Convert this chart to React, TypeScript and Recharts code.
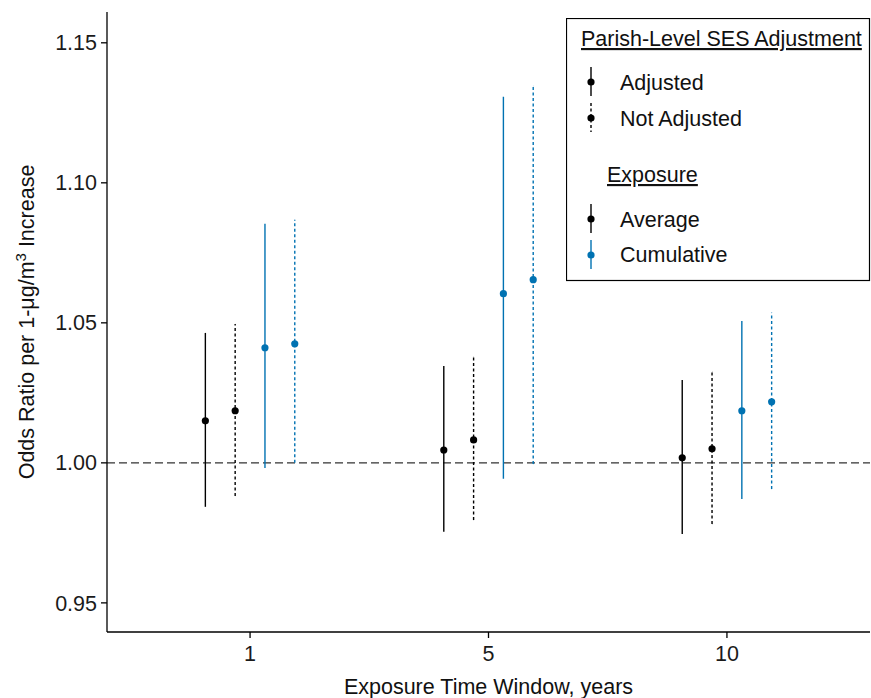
import React from 'react';
import { ComposedChart, Scatter, ErrorBar, XAxis, YAxis, ReferenceLine, Legend } from 'recharts';

const FONT = '"Liberation Sans", Arial, Helvetica, sans-serif';
const FS = 21.5;
const BLACK = '#000000';
const BLUE = '#0072B2';

// exposure windows (years) on the x axis
const windows = ['1', '5', '10'];
// dodge offsets for the 4 estimates inside each window
const dodge = [-0.1875, -0.0625, 0.0625, 0.1875];
const yTicks = [0.95, 1.0, 1.05, 1.1, 1.15];

// average exposure, adjusted for parish-level SES
const avgAdjOR = [1.015, 1.0046, 1.0018];
const avgAdjLow = [0.9843, 0.9754, 0.9746];
const avgAdjHigh = [1.0464, 1.0346, 1.0296];

// average exposure, not adjusted
const avgNotOR = [1.0186, 1.0082, 1.005];
const avgNotLow = [0.9882, 0.9796, 0.9782];
const avgNotHigh = [1.0496, 1.0379, 1.0325];

// cumulative exposure, adjusted
const cumAdjOR = [1.0411, 1.0604, 1.0186];
const cumAdjLow = [0.9982, 0.9943, 0.9871];
const cumAdjHigh = [1.0854, 1.1307, 1.0507];

// cumulative exposure, not adjusted
const cumNotOR = [1.0425, 1.0654, 1.0218];
const cumNotLow = [1.0, 0.9996, 0.9907];
const cumNotHigh = [1.0868, 1.1346, 1.0536];

const sesLabels = ['Adjusted', 'Not Adjusted'];
const exposureLabels = ['Average', 'Cumulative'];

const makeSeries = (or: number[], lo: number[], hi: number[], slot: number) =>
  windows.map((w, i) => ({
    x: i + 1 + dodge[slot],
    or: or[i],
    err: [or[i] - lo[i], hi[i] - or[i]],
  }));

const series = [
  { name: 'Average, Adjusted', data: makeSeries(avgAdjOR, avgAdjLow, avgAdjHigh, 0), color: BLACK, dash: undefined },
  { name: 'Average, Not Adjusted', data: makeSeries(avgNotOR, avgNotLow, avgNotHigh, 1), color: BLACK, dash: '3 2.5' },
  { name: 'Cumulative, Adjusted', data: makeSeries(cumAdjOR, cumAdjLow, cumAdjHigh, 2), color: BLUE, dash: undefined },
  { name: 'Cumulative, Not Adjusted', data: makeSeries(cumNotOR, cumNotLow, cumNotHigh, 3), color: BLUE, dash: '3 2.5' },
];

const Dot = (props: any) => <circle cx={props.cx} cy={props.cy} r={3.6} fill={props.fill} />;

const KeyGlyph = ({ y, color, dash }: { y: number; color: string; dash?: string }) => (
  <g>
    <line x1={25} x2={25} y1={y - 15} y2={y + 14} stroke={color} strokeWidth={1.4} strokeDasharray={dash} />
    <circle cx={25} cy={y} r={3.6} fill={color} />
  </g>
);

const LegendBox = () => {
  const textProps = { fontFamily: FONT, fontSize: FS, fill: '#111' };
  return (
    <svg width={305} height={264} style={{ display: 'block' }}>
      <rect x={0.5} y={0.5} width={303} height={262} fill="#fff" stroke="#000" strokeWidth={1.2} />
      <text x={15} y={28} {...textProps} style={{ textDecoration: 'underline' }}>Parish-Level SES Adjustment</text>
      <KeyGlyph y={64} color={BLACK} />
      <text x={54} y={72} {...textProps}>{sesLabels[0]}</text>
      <KeyGlyph y={100} color={BLACK} dash="3 2.5" />
      <text x={54} y={108} {...textProps}>{sesLabels[1]}</text>
      <text x={41} y={164} {...textProps} style={{ textDecoration: 'underline' }}>Exposure</text>
      <KeyGlyph y={201} color={BLACK} />
      <text x={54} y={209} {...textProps}>{exposureLabels[0]}</text>
      <KeyGlyph y={237} color={BLUE} />
      <text x={54} y={244} {...textProps}>{exposureLabels[1]}</text>
    </svg>
  );
};

const YTitle = (props: any) => {
  const vb = props.viewBox;
  const cx = vb.x + 34;
  const cy = vb.y + vb.height / 2;
  return (
    <text transform={`translate(${cx},${cy}) rotate(-90)`} textAnchor="middle" fontFamily={FONT} fontSize={FS} fill="#111">
      Odds Ratio per 1-μg/m<tspan dy={-8} fontSize={15}>3</tspan>
      <tspan dy={8}> Increase</tspan>
    </text>
  );
};

const XTitle = (props: any) => {
  const vb = props.viewBox;
  return (
    <text x={vb.x + vb.width / 2} y={vb.y + vb.height - 4} textAnchor="middle" fontFamily={FONT} fontSize={FS} fill="#111">
      Exposure Time Window, years
    </text>
  );
};

export default function App() {
  const tick = { fontFamily: FONT, fontSize: FS, fill: '#1a1a1a' };
  return (
    <div style={{ position: 'absolute', left: 0, top: 0, background: '#fff' }}>
      <ComposedChart width={871} height={698} margin={{ top: 12, right: 1, bottom: 0, left: 0 }}>
        <XAxis
          type="number"
          dataKey="x"
          domain={[0.4, 3.6]}
          ticks={[1, 2, 3]}
          tickFormatter={(v: number) => windows[v - 1]}
          allowDataOverflow
          height={66}
          tick={tick}
          tickSize={6}
          tickMargin={8}
          stroke="#000"
          axisLine={{ stroke: '#000', strokeWidth: 1.3 }}
          tickLine={{ stroke: '#000', strokeWidth: 1.3 }}
          label={<XTitle />}
        />
        <YAxis
          type="number"
          dataKey="or"
          domain={[0.9396, 1.161]}
          ticks={yTicks}
          tickFormatter={(v: number) => v.toFixed(2)}
          allowDataOverflow
          width={107}
          tick={tick}
          tickSize={6}
          tickMargin={4}
          stroke="#000"
          axisLine={{ stroke: '#000', strokeWidth: 1.3 }}
          tickLine={{ stroke: '#000', strokeWidth: 1.3 }}
          label={<YTitle />}
        />
        <ReferenceLine y={1} stroke="#333" strokeWidth={1.3} strokeDasharray="8 4" />
        {series.map((s) => (
          <Scatter
            key={s.name}
            name={s.name}
            data={s.data}
            dataKey="or"
            fill={s.color}
            shape={Dot}
            isAnimationActive={false}
          >
            <ErrorBar
              dataKey="err"
              direction="y"
              width={0}
              stroke={s.color}
              strokeWidth={1.4}
              strokeDasharray={s.dash}
              isAnimationActive={false}
            />
          </Scatter>
        ))}
        <Legend
          layout="horizontal"
          verticalAlign="middle"
          align="center"
          content={<LegendBox />}
          wrapperStyle={{ position: 'absolute', left: 566, top: 18, width: 305, height: 264 }}
        />
      </ComposedChart>
    </div>
  );
}
